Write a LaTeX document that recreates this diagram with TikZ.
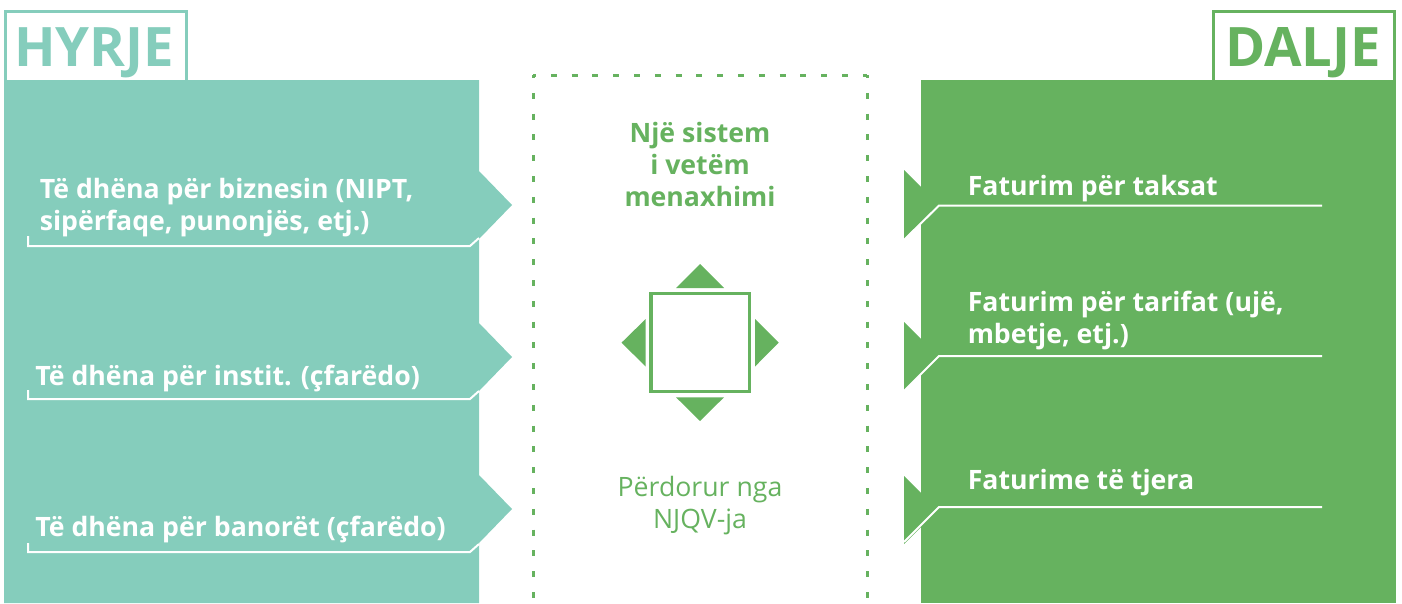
\documentclass[tikz,border=0pt]{standalone}
\usepackage{fontspec}
\setmainfont{Open Sans}
\definecolor{teal1}{HTML}{85CDBC}
\definecolor{green1}{HTML}{66B25F}
\tikzset{
  x=0.75pt,y=-0.75pt,
  panelteal/.style={fill=teal1,draw=none},
  panelgreen/.style={fill=green1,draw=none},
  rule/.style={draw=white,line width=1.5pt,line join=miter},
  lab/.style={text=white,font=\bfseries\fontsize{20pt}{24pt}\selectfont,anchor=base west,inner sep=0pt,align=left},
  head/.style={font=\bfseries\fontsize{40.8pt}{42pt}\selectfont,anchor=base,inner sep=0pt},
  tag/.style={line width=2.25pt,fill=white},
  tri/.style={fill=green1,draw=none},
  ctr/.style={text=green1,anchor=base,inner sep=0pt,align=center},
  dots/.style={draw=green1,line width=2.25pt,dash pattern=on 4.5pt off 11.1pt,dash phase=2.25pt},
}
\begin{document}
\begin{tikzpicture}
\useasboundingbox (0,0) rectangle (1402,603);
% tags
\draw[tag,draw=teal1] (5.5,82) -- (5.5,11) -- (186.5,11) -- (186.5,82);
\node[head,text=teal1] (hyrje) at (94,66) {HYRJE};
\draw[tag,draw=green1] (1213.5,82) -- (1213.5,11) -- (1394.5,11) -- (1394.5,82);
\node[head,text=green1] (dalje) at (1303,66) {DALJE};
% left panel
\fill[panelteal] (4,80) -- (479,80) -- (479,171) -- (512,205) -- (479,239) -- (479,323) -- (512,357) -- (479,391) -- (479,475) -- (512,509) -- (479,543) -- (479,603) -- (4,603) -- cycle;
% right panel
\fill[panelgreen] (921,80) rectangle (1396,603);
\foreach \t/\b in {170/239,322/391,476/544}{
  \fill[tri] (904,\t) -- (921,\t+17) -- (921,\b-17) -- (904,\b) -- cycle;
}
% rules left
\draw[rule] (28,236) -- (28,246) -- (470,246) -- (479,238);
\draw[rule] (28,390) -- (28,399) -- (470,399) -- (479,391);
\draw[rule] (28,543) -- (28,552) -- (470,552) -- (479,544);
% rules right
\draw[rule] (1322,205.5) -- (939,205.5) -- (904,240);
\draw[rule] (1322,356) -- (939,356) -- (904,391);
\draw[rule] (1322,507) -- (939,507) -- (904,542);
% left labels
\node[lab] (l1) at (39.5,230.5) {Të dhëna për biznesin (NIPT,\\sipërfaqe, punonjës, etj.)};
\node[lab] (l2) at (35,385) {Të dhëna për instit. (çfarëdo)};
\node[lab] (l3) at (35,536) {Të dhëna për banorët (çfarëdo)};
% right labels
\node[lab] (r1) at (967.5,195) {Faturim për taksat};
\node[lab] (r2) at (967.5,343) {Faturim për tarifat (ujë,\\mbetje, etj.)};
\node[lab] (r3) at (967.5,489) {Faturime të tjera};
% centre box
\coordinate (tl) at (533,75);
\coordinate (tr) at (867,75);
\coordinate (bl) at (533,603);
\coordinate (br) at (867,603);
\draw[dots] (tl) -- (tr);
\draw[dots] (tl) -- (bl);
\draw[dots] (tr) -- (br);
\node[ctr,font=\bfseries\fontsize{20pt}{24pt}\selectfont] (c1) at (700,206) {Një sistem\\i vetëm\\menaxhimi};
\node[ctr,font=\fontsize{20pt}{24pt}\selectfont] (c2) at (700,528) {Përdorur nga\\NJQV-ja};
% icon
\draw[green1,line width=2.5pt,fill=white] (651,293.4) rectangle (749.3,391.6);
\fill[tri] (700,264) -- (724,288) -- (676,288) -- cycle;
\fill[tri] (700,421) -- (724,397.3) -- (676,397.3) -- cycle;
\fill[tri] (621.5,342.7) -- (645.7,319) -- (645.7,366.5) -- cycle;
\fill[tri] (778.7,342.7) -- (755,319) -- (755,366.5) -- cycle;
\end{tikzpicture}
\end{document}
